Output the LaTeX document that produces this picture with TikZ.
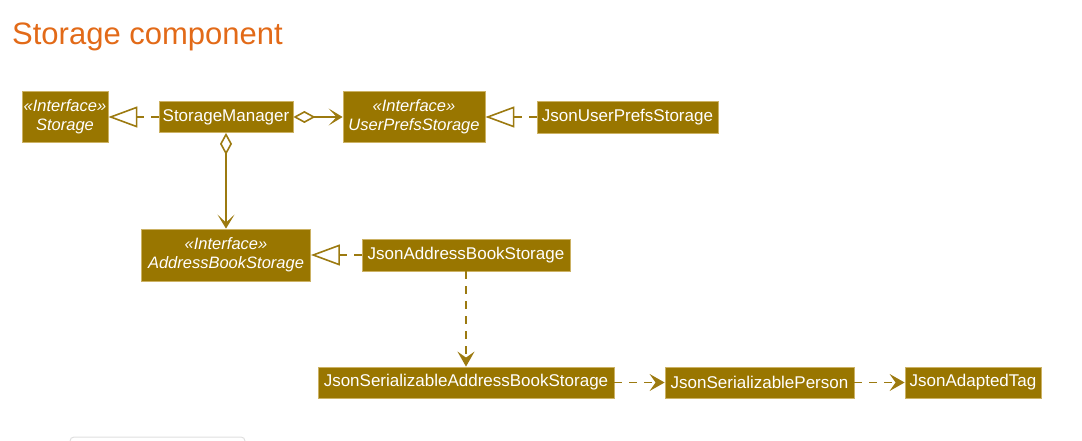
\documentclass[tikz,border=0pt]{standalone}
\usepackage{fontspec}
\setmainfont{Liberation Sans}
\usepackage{xcolor}
\usepackage{tikz}
\usetikzlibrary{arrows, arrows.meta}

\definecolor{titleorange}{RGB}{226,106,24}
\definecolor{boxfill}{RGB}{153,118,0}
\definecolor{boxline}{RGB}{204,178,100}
\definecolor{linkcol}{RGB}{156,122,16}

\tikzset{
  cls/.style={draw=boxline, line width=0.8pt, fill=boxfill, text=white, inner sep=0pt,
    font=\fontsize{17}{20}\selectfont},
  iface/.style={cls, align=center, font=\fontsize{16.5}{19}\selectfont\itshape},
  link/.style={draw=linkcol, line width=1.6pt},
  dashlink/.style={link, dash pattern=on 8pt off 7pt},
  realize/.style={dashlink, -{Triangle[open, length=29pt, width=21pt, line width=1.6pt]}},
  depend/.style={dashlink, -{Stealth[length=15pt, width=17pt, inset=6pt]}},
  aggr/.style={link, {Diamond[open, length=22pt, width=12pt, line width=1.6pt]}-{Stealth[length=14pt, width=17pt, inset=8pt]}}
}

\begin{document}
\begin{tikzpicture}[x=1pt, y=-1pt]
\useasboundingbox (0,0) rectangle (1082,441);
%\draw[step=50,gray,very thin] (0,0) grid (1082,441);
\node[anchor=base west, text=titleorange, inner sep=0pt, font=\fontsize{31}{36}\selectfont] (title) at (12,45) {Storage component};

% classes
\node[iface, minimum width=86, minimum height=51] (storage) at (65,117) {«Interface»\\Storage};
\node[cls, minimum width=134, minimum height=31] (manager) at (226,117) {StorageManager};
\node[iface, minimum width=142, minimum height=51] (prefs) at (414,117) {«Interface»\\UserPrefsStorage};
\node[cls, minimum width=181, minimum height=32] (jsonprefs) at (627.5,117) {JsonUserPrefsStorage};
\node[iface, minimum width=169, minimum height=52] (abs) at (226,255) {«Interface»\\AddressBookStorage};
\node[cls, minimum width=208, minimum height=32] (jsonabs) at (466,255) {JsonAddressBookStorage};
\node[cls, minimum width=296, minimum height=31] (jsabs) at (466,382.5) {JsonSerializableAddressBookStorage};
\node[cls, minimum width=189, minimum height=31] (jsperson) at (759.5,382.5) {JsonSerializablePerson};
\node[cls, minimum width=136, minimum height=31] (jstag) at (973,382.5) {JsonAdaptedTag};

% links
\draw[realize] (manager.west) -- (storage.east);
\draw[aggr] (manager.east) -- (prefs.west);
\draw[aggr] (manager.south) -- (abs.north);
\draw[realize] (jsonprefs.west) -- (prefs.east);
\draw[realize] (jsonabs.west) -- (abs.east);
\draw[depend] (jsonabs.south) -- (jsabs.north);
\draw[depend] (jsabs.east) -- (jsperson.west);
\draw[depend] (jsperson.east) -- (jstag.west);

% edge of the next panel
\draw[gray!25, line width=1pt, rounded corners=4] (70,470) -- (70,437) -- (245,437) -- (245,470);
\end{tikzpicture}
\end{document}
